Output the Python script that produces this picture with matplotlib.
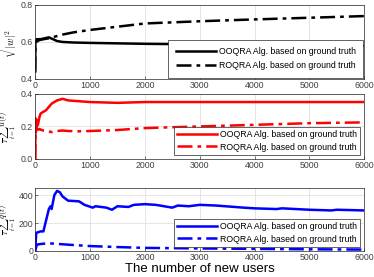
import matplotlib
matplotlib.use("Agg")
import matplotlib.pyplot as plt

plt.rcParams['font.family'] = ['Liberation Sans', 'DejaVu Sans']
plt.rcParams['mathtext.fontset'] = 'cm'

# values
x_w = [0, 5, 30, 100, 250, 400, 500, 700, 1000, 2000, 3000, 4000, 5000, 6000]
w_oo = [0.44, 0.60, 0.615, 0.615, 0.625, 0.605, 0.600, 0.597, 0.595, 0.590, 0.587, 0.584, 0.582, 0.580]
w_ro = [0.44, 0.60, 0.605, 0.612, 0.62, 0.632, 0.640, 0.652, 0.665, 0.700, 0.712, 0.722, 0.731, 0.740]

x_u = [0, 8, 15, 30, 50, 80, 100, 150, 200, 300, 400, 500, 600, 800, 1000, 1500, 2000, 3000, 4000, 5000, 6000]
u_oo = [0.0, 0.25, 0.17, 0.24, 0.21, 0.26, 0.28, 0.29, 0.30, 0.34, 0.36, 0.37, 0.36, 0.355, 0.35, 0.345, 0.35, 0.35, 0.35, 0.35, 0.35]
u_ro = [0.0, 0.20, 0.19, 0.19, 0.18, 0.185, 0.18, 0.175, 0.175, 0.165, 0.172, 0.175, 0.172, 0.17, 0.172, 0.178, 0.19, 0.20, 0.21, 0.22, 0.225]

x_q = [0, 20, 100, 150, 200, 250, 280, 300, 350, 400, 450, 500, 600, 800, 900, 1050, 1100, 1300, 1400,
       1500, 1700, 1800, 2000, 2200, 2500, 2600, 2800, 3000, 3300, 3800, 4000, 4400, 4500, 5000, 5400, 5500, 6000]
q_oo = [0, 130, 140, 140, 220, 300, 320, 300, 400, 430, 420, 390, 360, 355, 330, 310, 320, 310, 295,
        320, 315, 330, 335, 330, 310, 325, 320, 330, 325, 310, 305, 300, 305, 295, 290, 295, 290]
x_q2 = [0, 30, 100, 250, 600, 1000, 1500, 2000, 3000, 4000, 5000, 6000]
q_ro = [0, 45, 50, 55, 45, 35, 28, 22, 18, 15, 12, 10]

labels = ['OOQRA Alg. based on ground truth', 'ROQRA Alg. based on ground truth']

fig = plt.figure(figsize=(3.74, 2.77), dpi=100)
boxes = [[0.094, 0.715, 0.880, 0.267], [0.094, 0.426, 0.880, 0.235], [0.094, 0.094, 0.880, 0.227]]
series = [(x_w, w_oo, x_w, w_ro, 'k', [0.4, 0.8], [0.4, 0.6, 0.8], r'$\sqrt{|w|^2}$', 7.5),
          (x_u, u_oo, x_u, u_ro, 'r', [0, 0.4], [0, 0.2, 0.4], r'$\frac{1}{T}\sum_{t=1}^{T}u(t)$', 6.2),
          (x_q, q_oo, x_q2, q_ro, 'b', [0, 450], [0, 200, 400], r'$\frac{1}{T}\sum_{t=1}^{T}q(t)$', 6.2)]
leg_pad = [(0.9, 0.55, 0.1), (0.35, 0.35, 0.5), (0.35, 0.35, 0.5)]

for box, (xa, ya, xb, yb, c, ylim, yt, ylab, yfs), (bp, ls_, bap) in zip(boxes, series, leg_pad):
    ax = fig.add_axes(box)
    ax.plot(xa, ya, color=c, lw=1.8, label=labels[0])
    ax.plot(xb, yb, color=c, lw=1.8, ls=(0, (6, 2, 1.5, 2)), label=labels[1])
    ax.set_xlim(0, 6000)
    ax.set_ylim(ylim)
    ax.set_yticks(yt)
    ax.set_xticks(range(0, 6001, 1000))
    ax.grid(True, color='#e0e0e0', lw=0.6)
    ax.tick_params(direction='in', labelsize=6.3, length=2, width=0.5, colors='#404040', pad=1.5)
    for s in ax.spines.values():
        s.set_color('#262626')
        s.set_linewidth(0.5)
    ax.set_ylabel(ylab, fontsize=yfs)
    ax.yaxis.set_label_coords(-0.05, 0.5)
    leg = ax.legend(loc='lower right', fontsize=6.3, handlelength=4.6, frameon=True, fancybox=False,
                    edgecolor='#262626', borderpad=bp, labelspacing=ls_, handletextpad=0.3,
                    borderaxespad=bap, framealpha=1)
    leg.get_frame().set_linewidth(0.5)

ax.set_xlabel('The number of new users', fontsize=9.5, labelpad=1)

fig.savefig('out.png', dpi=100)
